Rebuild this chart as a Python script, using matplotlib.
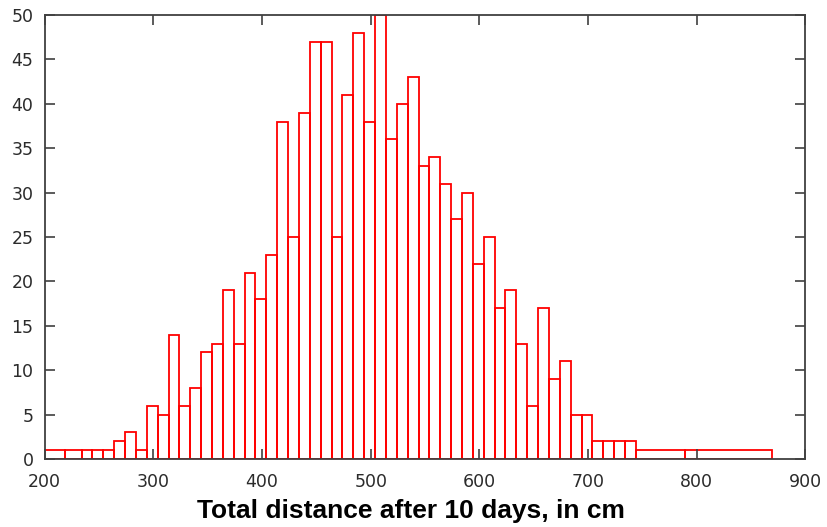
import numpy as np
import matplotlib
matplotlib.use('Agg')
import matplotlib.pyplot as plt

# bin centres (cm) and counts
centers = [209, 229, 239, 249, 259, 269, 279, 289, 299, 309,
           319, 329, 339, 349, 359, 369, 379, 389, 399, 409,
           419, 429, 439, 449, 459, 469, 479, 489, 499, 509,
           519, 529, 539, 549, 559, 569, 579, 589, 599, 609,
           619, 629, 639, 649, 659, 669, 679, 689, 699, 709,
           719, 729, 739, 749, 829]
counts = [1, 1, 1, 1, 1, 2, 3, 1, 6, 5,
          14, 6, 8, 12, 13, 19, 13, 21, 18, 23,
          38, 25, 39, 47, 47, 25, 41, 48, 38, 50,
          36, 40, 43, 33, 34, 31, 27, 30, 22, 25,
          17, 19, 13, 6, 17, 9, 11, 5, 5, 2,
          2, 2, 2, 1, 1]
xticks = [200, 300, 400, 500, 600, 700, 800, 900]
yticks = [0, 5, 10, 15, 20, 25, 30, 35, 40, 45, 50]

plt.rcParams['font.family'] = 'DejaVu Sans'

# box widths like gnuplot's autowidth: halfway to the neighbouring points
c = np.array(centers, dtype=float)
mids = (c[1:] + c[:-1]) / 2
left = np.concatenate([[c[0] - (mids[0] - c[0])], mids])
right = np.concatenate([mids, [c[-1] + (c[-1] - mids[-1])]])

fig = plt.figure(figsize=(8.28, 5.27), dpi=100)
ax = fig.add_axes([0.0539, 0.129, 0.9189, 0.8425])

ax.bar(left, counts, width=right - left, align='edge', fill=False,
       edgecolor='#ff0000', linewidth=1.3)

ax.set_xlim(200, 900)
ax.set_ylim(0, 50)
ax.set_xticks(xticks)
ax.set_yticks(yticks)

for s in ax.spines.values():
    s.set_color('#404040')
    s.set_linewidth(1.3)
ax.tick_params(direction='in', length=7, width=1.2, color='#404040',
               top=True, right=True, labelsize=12.5, labelcolor='#2b2b2b')
ax.tick_params(axis='x', pad=10)
ax.tick_params(axis='y', pad=8)

ax.set_xlabel('Total distance after 10 days, in cm', family='Liberation Sans',
              fontweight='bold', fontsize=19)
ax.xaxis.set_label_coords(0.482, -0.1329)
ax.xaxis.label.set_va('baseline')

fig.savefig('out.png', dpi=100)
